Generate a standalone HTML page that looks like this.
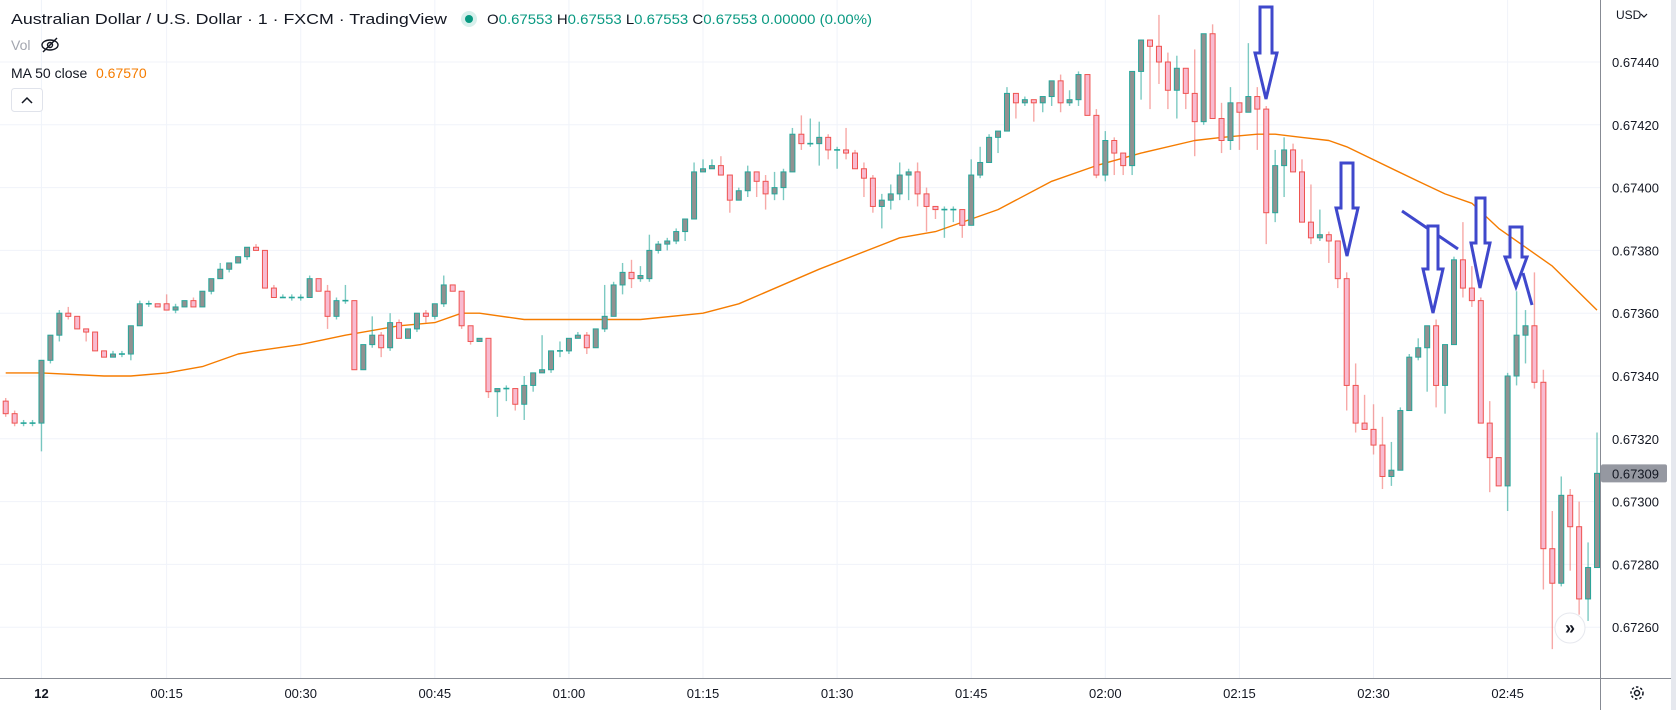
<!DOCTYPE html>
<html><head><meta charset="utf-8"><title>AUD/USD 1m chart</title>
<style>
html,body{margin:0;padding:0;background:#fff;}
svg{display:block;font-family:"Liberation Sans",sans-serif;}
</style></head>
<body>
<svg id="chart" width="1676" height="710" viewBox="0 0 1676 710" xmlns="http://www.w3.org/2000/svg">
  <rect x="0" y="0" width="1676" height="710" fill="#ffffff"/>
  <g id="grid"></g>
  <g id="ma"></g>
  <g id="candles"></g>
  <g id="annot" fill="none" stroke="#3f48cc" stroke-width="3" stroke-linejoin="miter">
    <path d="M1260,7 L1272,7 L1272,53 L1277,53 L1266,99 L1255,53 L1260,53 Z"/>
    <path d="M1341,163 L1353,163 L1353,208 L1358,208 L1347,256 L1336,208 L1341,208 Z"/>
    <line x1="1402" y1="211" x2="1458" y2="249"/>
    <path d="M1428,226 L1438,226 L1438,269 L1443,269 L1433,313 L1423,269 L1428,269 Z" fill="#fff"/>
    <path d="M1476,198 L1485,198 L1485,243 L1490,243 L1480,288 L1471,243 L1476,243 Z" fill="#fff"/>
    <path d="M1510,227 L1522,227 L1522,257 L1527,257 L1516,287 L1505,257 L1510,257 Z"/>
    <line x1="1523" y1="273" x2="1532" y2="305"/>
  </g>
  <g id="axes"></g>

  <!-- header legend -->
  <text x="11" y="24" font-size="15" fill="#131722" textLength="436" lengthAdjust="spacingAndGlyphs">Australian Dollar / U.S. Dollar · 1 · FXCM · TradingView</text>
  <circle cx="469" cy="19" r="8" fill="#d7f0ec"/>
  <circle cx="469" cy="19" r="4" fill="#089981"/>
  <text x="487" y="24" font-size="14" fill="#089981" textLength="385" lengthAdjust="spacingAndGlyphs"><tspan fill="#131722">O</tspan>0.67553 <tspan fill="#131722">H</tspan>0.67553 <tspan fill="#131722">L</tspan>0.67553 <tspan fill="#131722">C</tspan>0.67553 0.00000 (0.00%)</text>
  <text x="11" y="50" font-size="14" fill="#a3a6af">Vol</text>
  <g stroke="#131722" stroke-width="1.4" fill="none">
    <ellipse cx="50" cy="45" rx="8" ry="5"/><circle cx="50" cy="45" r="2.5"/><line x1="43" y1="52" x2="57" y2="38"/>
  </g>
  <text x="11" y="78" font-size="14" fill="#131722">MA 50 close</text>
  <text x="96" y="78" font-size="14" fill="#f57c00">0.67570</text>
  <g>
    <rect x="11.5" y="88.5" width="31" height="23" rx="3" fill="#fff" stroke="#e0e3eb"/>
    <path d="M22,103 L27,98 L32,103" fill="none" stroke="#131722" stroke-width="1.5"/>
  </g>

  <!-- right axis extras -->
  <text x="1616" y="19" font-size="12" fill="#131722">USD</text>
  <path d="M1641,14 L1644,17 L1647,14" fill="none" stroke="#131722" stroke-width="1.2"/>
  <g>
    <circle cx="1570" cy="628" r="15" fill="#fff" stroke="#e6e8ee"/>
    <text x="1570" y="634" font-size="18" text-anchor="middle" fill="#131722" font-weight="bold">»</text>
  </g>
  <g fill="none" stroke="#131722" stroke-width="1.5">
    <circle cx="1637" cy="693" r="6" stroke-dasharray="2.5 2"/><circle cx="1637" cy="693" r="2.5"/>
  </g>
  <rect x="1671" y="0" width="5" height="710" fill="#e6e8ee"/>
</svg>
<script>
const opens=[0.67332,0.67328,0.67325,0.67325,0.67325,0.67345,0.67353,0.67360,0.67359,0.67355,
0.67354,0.67348,0.67346,0.67347,0.67347,0.67356,0.67363,0.67363,0.67363,0.67361,
0.67362,0.67364,0.67362,0.67367,0.67371,0.67374,0.67376,0.67378,0.67381,0.67380,
0.67368,0.67365,0.67365,0.67365,0.67365,0.67371,0.67367,0.67359,0.67364,0.67364,
0.67342,0.67350,0.67353,0.67349,0.67357,0.67352,0.67355,0.67360,0.67359,0.67363,
0.67369,0.67367,0.67356,0.67351,0.67352,0.67335,0.67336,0.67336,0.67331,0.67337,
0.67341,0.67342,0.67348,0.67348,0.67352,0.67353,0.67349,0.67355,0.67359,0.67369,
0.67373,0.67371,0.67371,0.67380,0.67382,0.67383,0.67386,0.67390,0.67405,0.67406,
0.67407,0.67404,0.67396,0.67399,0.67405,0.67402,0.67398,0.67400,0.67405,0.67417,
0.67414,0.67414,0.67416,0.67412,0.67412,0.67411,0.67406,0.67403,0.67394,0.67396,
0.67398,0.67404,0.67405,0.67398,0.67394,0.67393,0.67393,0.67393,0.67388,0.67404,
0.67408,0.67416,0.67418,0.67430,0.67427,0.67428,0.67427,0.67429,0.67434,0.67427,
0.67428,0.67436,0.67423,0.67404,0.67415,0.67411,0.67407,0.67437,0.67447,0.67445,
0.67440,0.67431,0.67438,0.67430,0.67421,0.67449,0.67422,0.67415,0.67427,0.67424,
0.67429,0.67425,0.67392,0.67407,0.67412,0.67405,0.67389,0.67384,0.67385,0.67383,
0.67371,0.67337,0.67325,0.67323,0.67318,0.67308,0.67310,0.67329,0.67346,0.67349,
0.67356,0.67337,0.67350,0.67377,0.67368,0.67364,0.67325,0.67314,0.67305,0.67340,
0.67353,0.67356,0.67338,0.67285,0.67274,0.67302,0.67292,0.67269,0.67279];
const highs=[0.67333,0.67329,0.67326,0.67326,0.67345,0.67353,0.67361,0.67362,0.67359,0.67355,
0.67354,0.67348,0.67348,0.67348,0.67356,0.67364,0.67364,0.67363,0.67366,0.67363,
0.67364,0.67365,0.67367,0.67371,0.67376,0.67376,0.67378,0.67381,0.67382,0.67380,
0.67369,0.67366,0.67366,0.67366,0.67372,0.67371,0.67369,0.67365,0.67369,0.67364,
0.67350,0.67359,0.67354,0.67360,0.67358,0.67355,0.67360,0.67361,0.67363,0.67372,
0.67369,0.67367,0.67356,0.67352,0.67352,0.67336,0.67337,0.67336,0.67340,0.67341,
0.67353,0.67348,0.67351,0.67352,0.67354,0.67354,0.67355,0.67369,0.67370,0.67376,
0.67377,0.67375,0.67385,0.67383,0.67384,0.67387,0.67390,0.67408,0.67409,0.67409,
0.67410,0.67404,0.67400,0.67407,0.67405,0.67404,0.67405,0.67406,0.67419,0.67423,
0.67422,0.67421,0.67417,0.67413,0.67419,0.67412,0.67408,0.67404,0.67398,0.67401,
0.67408,0.67406,0.67408,0.67400,0.67394,0.67394,0.67394,0.67393,0.67409,0.67413,
0.67417,0.67418,0.67432,0.67430,0.67429,0.67428,0.67429,0.67434,0.67436,0.67431,
0.67437,0.67436,0.67425,0.67418,0.67416,0.67411,0.67437,0.67447,0.67447,0.67455,
0.67443,0.67442,0.67438,0.67444,0.67449,0.67452,0.67427,0.67432,0.67427,0.67446,
0.67432,0.67426,0.67412,0.67416,0.67414,0.67409,0.67401,0.67393,0.67386,0.67383,
0.67373,0.67344,0.67334,0.67331,0.67327,0.67319,0.67330,0.67347,0.67352,0.67356,
0.67358,0.67350,0.67378,0.67389,0.67375,0.67365,0.67332,0.67314,0.67341,0.67367,
0.67361,0.67373,0.67342,0.67297,0.67308,0.67304,0.67300,0.67287,0.67322];
const lows=[0.67327,0.67324,0.67324,0.67324,0.67316,0.67344,0.67351,0.67358,0.67355,0.67351,
0.67348,0.67346,0.67346,0.67346,0.67345,0.67356,0.67362,0.67362,0.67361,0.67360,
0.67362,0.67362,0.67362,0.67366,0.67371,0.67373,0.67376,0.67377,0.67380,0.67368,
0.67365,0.67365,0.67364,0.67364,0.67365,0.67367,0.67355,0.67358,0.67363,0.67342,
0.67342,0.67349,0.67346,0.67348,0.67352,0.67352,0.67354,0.67357,0.67358,0.67362,
0.67367,0.67355,0.67350,0.67351,0.67333,0.67327,0.67332,0.67329,0.67326,0.67335,
0.67341,0.67341,0.67346,0.67347,0.67352,0.67347,0.67349,0.67354,0.67359,0.67366,
0.67368,0.67370,0.67370,0.67379,0.67380,0.67382,0.67383,0.67390,0.67405,0.67406,
0.67404,0.67392,0.67396,0.67397,0.67397,0.67393,0.67396,0.67396,0.67405,0.67412,
0.67413,0.67407,0.67409,0.67406,0.67409,0.67406,0.67397,0.67392,0.67387,0.67393,
0.67396,0.67396,0.67394,0.67386,0.67390,0.67384,0.67389,0.67384,0.67388,0.67403,
0.67408,0.67411,0.67418,0.67422,0.67426,0.67421,0.67424,0.67426,0.67424,0.67426,
0.67426,0.67423,0.67403,0.67402,0.67404,0.67404,0.67404,0.67428,0.67425,0.67433,
0.67425,0.67422,0.67425,0.67410,0.67420,0.67422,0.67411,0.67412,0.67412,0.67424,
0.67412,0.67382,0.67389,0.67397,0.67405,0.67389,0.67382,0.67383,0.67376,0.67368,
0.67329,0.67322,0.67323,0.67315,0.67304,0.67305,0.67310,0.67329,0.67345,0.67335,
0.67330,0.67328,0.67350,0.67365,0.67362,0.67325,0.67303,0.67305,0.67297,0.67337,
0.67344,0.67336,0.67272,0.67253,0.67273,0.67278,0.67264,0.67262,0.67279];
const closes=[0.67328,0.67325,0.67325,0.67325,0.67345,0.67353,0.67360,0.67359,0.67355,0.67354,
0.67348,0.67346,0.67347,0.67347,0.67356,0.67363,0.67363,0.67362,0.67361,0.67362,
0.67364,0.67362,0.67367,0.67371,0.67374,0.67376,0.67378,0.67381,0.67380,0.67368,
0.67365,0.67365,0.67365,0.67365,0.67371,0.67367,0.67359,0.67364,0.67364,0.67342,
0.67350,0.67353,0.67349,0.67357,0.67352,0.67355,0.67360,0.67359,0.67363,0.67369,
0.67367,0.67356,0.67351,0.67352,0.67335,0.67336,0.67336,0.67331,0.67337,0.67341,
0.67342,0.67348,0.67348,0.67352,0.67353,0.67349,0.67355,0.67359,0.67369,0.67373,
0.67371,0.67372,0.67380,0.67382,0.67383,0.67386,0.67390,0.67405,0.67406,0.67407,
0.67404,0.67396,0.67399,0.67405,0.67402,0.67398,0.67400,0.67405,0.67417,0.67414,
0.67414,0.67416,0.67412,0.67412,0.67411,0.67406,0.67403,0.67394,0.67396,0.67398,
0.67404,0.67405,0.67398,0.67394,0.67393,0.67393,0.67393,0.67388,0.67404,0.67408,
0.67416,0.67418,0.67430,0.67427,0.67428,0.67427,0.67429,0.67434,0.67427,0.67428,
0.67436,0.67423,0.67404,0.67415,0.67411,0.67407,0.67437,0.67447,0.67445,0.67440,
0.67431,0.67438,0.67430,0.67421,0.67449,0.67422,0.67415,0.67427,0.67424,0.67429,
0.67425,0.67392,0.67407,0.67412,0.67405,0.67389,0.67384,0.67385,0.67383,0.67371,
0.67337,0.67325,0.67323,0.67318,0.67308,0.67310,0.67329,0.67346,0.67349,0.67356,
0.67337,0.67350,0.67377,0.67368,0.67364,0.67325,0.67314,0.67305,0.67340,0.67353,
0.67356,0.67338,0.67285,0.67274,0.67302,0.67292,0.67269,0.67279,0.67309];
const maIndex=[0,4,11,14,18,22,26,28,33,38,44,48,51,53,58,62,67,71,78,82,91,100,104,111,117,122,127,133,136,140,142,145,148,150,158,161,164,167,173,178];
const maValues=[0.67341,0.67341,0.67340,0.67340,0.67341,0.67343,0.67347,0.67348,0.67350,0.67353,0.67356,0.67357,0.67360,0.67360,0.67358,0.67358,0.67358,0.67358,0.67360,0.67363,0.67374,0.67384,0.67386,0.67393,0.67402,0.67407,0.67411,0.67415,0.67416,0.67417,0.67417,0.67416,0.67415,0.67413,0.67402,0.67398,0.67395,0.67387,0.67375,0.67361];
const priceTicks=[0.67440,0.67420,0.67400,0.67380,0.67360,0.67340,0.67320,0.67300,0.67280,0.67260];
const timeTickIndex=[4,18,33,48,63,78,93,108,123,138,153,168];
const timeTickLabels=["12","00:15","00:30","00:45","01:00","01:15","01:30","01:45","02:00","02:15","02:30","02:45"];
const lastPrice=0.67309;

const NS="http://www.w3.org/2000/svg";
const PLOT_W=1600, PLOT_B=678;
function xScale(i){return 5.7+i*8.94;}
function yScale(p){return 62+(0.67440-p)*314000;}
function mk(tag,attrs,parent){const e=document.createElementNS(NS,tag);for(const k in attrs)e.setAttribute(k,attrs[k]);parent.appendChild(e);return e;}

const grid=document.getElementById('grid');
priceTicks.forEach(p=>{
  const l=mk('line',{x1:0,x2:PLOT_W,y1:yScale(p),y2:yScale(p),stroke:'#f0f3fa','stroke-width':1},grid);
  
  
});
timeTickIndex.forEach(i=>{
  const l=mk('line',{x1:xScale(i),x2:xScale(i),y1:0,y2:PLOT_B,stroke:'#f0f3fa','stroke-width':1},grid);
  
  
});

const maG=document.getElementById('ma');
const pts=maIndex.map((i,k)=>xScale(i).toFixed(1)+','+yScale(maValues[k]).toFixed(1)).join(' ');
const maLine=mk('polyline',{points:pts,fill:'none',stroke:'#f57c00','stroke-width':1.4,'stroke-linejoin':'round'},maG);



const cg=document.getElementById('candles');
for(let i=0;i<closes.length;i++){
  const x=xScale(i),o=opens[i],c=closes[i],h=highs[i],lo=lows[i];
  const up=c>=o;
  const g=mk('g',{},cg);
  
  
  const w=mk('line',{x1:x,x2:x,y1:yScale(h),y2:yScale(lo),stroke:up?'rgba(38,166,154,0.6)':'rgba(239,83,80,0.5)','stroke-width':1.4},g);
  
  
  const top=yScale(Math.max(o,c)),bot=yScale(Math.min(o,c));
  if(bot-top<1.5){
    const d=mk('line',{x1:x-3,x2:x+3,y1:(top+bot)/2,y2:(top+bot)/2,stroke:'#26a69a','stroke-width':1.6},g);
    
    
  } else {
    const b=mk('rect',{x:x-2.5,y:top,width:5,height:bot-top,fill:up?'#919191':'#f8bbd0',stroke:up?'#26a69a':'#ef5350','stroke-width':1},g);
    
    
  }
}

const ax=document.getElementById('axes');
const rv=mk('line',{x1:1600.5,x2:1600.5,y1:0,y2:710,stroke:'#878b94','stroke-width':1},ax);


const bh=mk('line',{x1:0,x2:1671,y1:678.5,y2:678.5,stroke:'#878b94','stroke-width':1},ax);


priceTicks.forEach(p=>{
  const t=mk('text',{x:1612,y:yScale(p)+5,'font-size':13,fill:'#131722'},ax);
  t.textContent=p.toFixed(5);
  
  
});
timeTickIndex.forEach((i,k)=>{
  const t=mk('text',{x:xScale(i),y:698,'font-size':13,fill:'#131722','text-anchor':'middle','font-weight':k===0?'bold':'normal'},ax);
  t.textContent=timeTickLabels[k];
  
  
});
const ly=yScale(lastPrice);
const lb=mk('rect',{x:1601,y:ly-9,width:66,height:18,rx:2,fill:'#9598a1'},ax);


const lt=mk('text',{x:1612,y:ly+5,'font-size':13,fill:'#131722'},ax);
lt.textContent=lastPrice.toFixed(5);


</script>
</body></html>
